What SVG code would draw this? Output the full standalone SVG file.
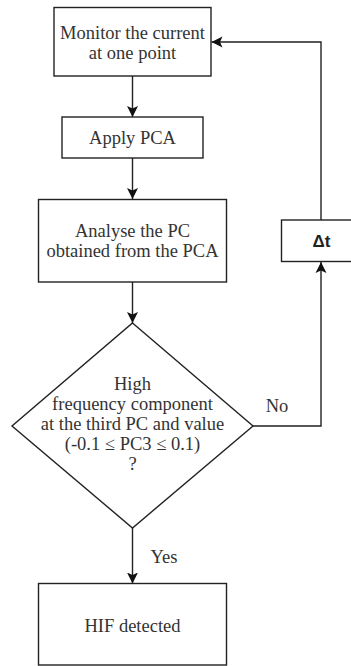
<svg xmlns="http://www.w3.org/2000/svg" width="351" height="666" viewBox="0 0 351 666">
  <style>
    .box { fill: #ffffff; stroke: #222222; stroke-width: 1.4; }
    .edge { fill: none; stroke: #222222; stroke-width: 1.4; }
    .lbl { font-family: "Liberation Serif", "Times New Roman", serif; font-size: 18.5px; fill: #333333; text-anchor: middle; }
    .bold { font-family: "Liberation Sans", Arial, sans-serif; font-weight: bold; font-size: 17px; fill: #222222; text-anchor: middle; }
  </style>
  <defs>
    <marker id="arrow" markerUnits="userSpaceOnUse" markerWidth="12" markerHeight="12" viewBox="0 0 12 12" refX="11" refY="6" orient="auto">
      <path d="M11,6 L0,0.5 L2.5,6 L0,11.5 Z" fill="#111111"/>
    </marker>
  </defs>
  <rect width="351" height="666" fill="#ffffff"/>

  <!-- connectors -->
  <g id="connectors">
    <path class="edge" d="M132.5,76 L132.5,117" marker-end="url(#arrow)"/>
    <path class="edge" d="M132.5,158 L132.5,199" marker-end="url(#arrow)"/>
    <path class="edge" d="M132.5,282 L132.5,323" marker-end="url(#arrow)"/>
    <path class="edge" d="M253,426 L321,426 L321,262" marker-end="url(#arrow)"/>
    <path class="edge" d="M321,220 L321,42 L211.5,42" marker-end="url(#arrow)"/>
    <path class="edge" d="M132.5,528 L132.5,583.5" marker-end="url(#arrow)"/>
    <text class="lbl" x="277" y="411.5">No</text>
    <text class="lbl" x="164" y="562.5">Yes</text>
  </g>

  <g id="monitor">
    <rect class="box" x="54" y="7.5" width="157" height="68.5"/>
    <text class="lbl" x="132.5" y="38.5">Monitor the current</text>
    <text class="lbl" x="132.5" y="58.5">at one point</text>
  </g>

  <g id="apply-pca">
    <rect class="box" x="62" y="117" width="141" height="41"/>
    <text class="lbl" x="132.5" y="144">Apply PCA</text>
  </g>

  <g id="analyse">
    <rect class="box" x="38.5" y="199.5" width="188" height="82.5"/>
    <text class="lbl" x="132.5" y="236.5">Analyse the PC</text>
    <text class="lbl" x="132.5" y="256.5">obtained from the PCA</text>
  </g>

  <g id="decision">
    <path class="box" d="M132.5,323 L253,426 L132.5,528 L12,426 Z"/>
    <text class="lbl" x="132.5" y="390">High</text>
    <text class="lbl" x="132.5" y="410">frequency component</text>
    <text class="lbl" x="132.5" y="430">at the third PC and value</text>
    <text class="lbl" x="132.5" y="450">(-0.1 ≤ PC3 ≤ 0.1)</text>
    <text class="lbl" x="132.5" y="470">?</text>
  </g>

  <g id="delay">
    <rect class="box" x="281.5" y="220" width="80" height="41.5"/>
    <text class="bold" x="321.5" y="247">Δt</text>
  </g>

  <g id="hif-detected">
    <rect class="box" x="38.5" y="583.5" width="188" height="81.5"/>
    <text class="lbl" x="132.5" y="632">HIF detected</text>
  </g>
</svg>
